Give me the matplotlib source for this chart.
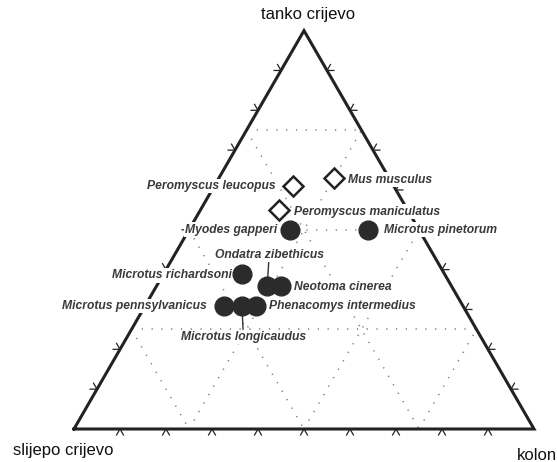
import numpy as np
import matplotlib
matplotlib.use("Agg")
import matplotlib.pyplot as plt

# composition (%) of the three gut parts for each species
species = ["Peromyscus leucopus", "Mus musculus", "Peromyscus maniculatus",
           "Myodes gapperi", "Microtus pinetorum", "Ondatra zibethicus",
           "Microtus richardsoni", "Neotoma cinerea", "Microtus pennsylvanicus",
           "Microtus longicaudus", "Phenacomys intermedius"]
slijepo = [22, 12, 28, 28, 11, 40, 44, 37, 52, 48, 45]
tanko   = [61, 63, 55, 50, 50, 36, 39, 36, 31, 31, 31]
kolon   = [17, 25, 17, 22, 39, 24, 17, 27, 17, 21, 24]
diamond = [True, True, True, False, False, False, False, False, False, False, False]

corner_names = ["slijepo crijevo", "tanko crijevo", "kolon"]
grid_levels = [0.25, 0.5, 0.75]
tick_levels = [0.1, 0.2, 0.3, 0.4, 0.5, 0.6, 0.7, 0.8, 0.9]

# label layout: (dx, dy) in pixels from the point, horizontal alignment, leader line
label_pos = {
    "Peromyscus leucopus": (-17, 0, "right", False),
    "Mus musculus": (14, -1.5, "left", False),
    "Peromyscus maniculatus": (15, -2, "left", False),
    "Myodes gapperi": (-13, 0, "right", False),
    "Microtus pinetorum": (16, 0, "left", False),
    "Ondatra zibethicus": (2, 31, "center", True),
    "Microtus richardsoni": (-10, -1.5, "right", False),
    "Neotoma cinerea": (13, -1, "left", False),
    "Microtus pennsylvanicus": (-16.5, -0.5, "right", False),
    "Microtus longicaudus": (1.5, -31.5, "center", True),
    "Phenacomys intermedius": (13, 0, "left", False),
}


def tern(s, t, k):
    s = np.asarray(s, float); t = np.asarray(t, float); k = np.asarray(k, float)
    tot = s + t + k
    t = t / tot
    k = k / tot
    return k + t / 2, t * np.sqrt(3) / 2


fig = plt.figure(figsize=(5.57, 4.62), dpi=100)
ax = fig.add_axes([0, 0, 1, 1])
ax.set_xlim(-74 / 460, 483 / 460)
ax.set_ylim(-33 / 460, 429 / 460)
ax.axis("off")

grid_kw = dict(color="#7a7a7a", lw=1.1, ls=(0, (0.8, 5.6)), zorder=1)
for c in grid_levels:
    x, y = tern([1 - c, 0], [c, c], [0, 1 - c])
    ax.plot(x, y, **grid_kw)
    x, y = tern([1 - c, 0], [0, 1 - c], [c, c])
    ax.plot(x, y, **grid_kw)
    x, y = tern([c, c], [1 - c, 0], [0, 1 - c])
    ax.plot(x, y, **grid_kw)

# outline
x, y = tern([1, 0, 0, 1], [0, 1, 0, 0], [0, 0, 1, 0])
ax.plot(x, y, color="#222222", lw=2.2, solid_joinstyle="miter", zorder=2)

# chevron ticks
d = 0.015
tick_kw = dict(color="#222222", lw=0.9, zorder=2)
for f in tick_levels:
    # bottom edge
    x, y = tern([1 - f + d, 1 - f, 1 - f], [-d, 0, -d], [f, f, f + d])
    ax.plot(x, y, **tick_kw)
    # left edge
    x, y = tern([1 - f + d, 1 - f, 1 - f], [f, f, f + d], [-d, 0, -d])
    ax.plot(x, y, **tick_kw)
    # right edge
    x, y = tern([-d, 0, -d], [f + d, f, f], [1 - f, 1 - f, 1 - f + d])
    ax.plot(x, y, **tick_kw)

# points
px, py = tern(slijepo, tanko, kolon)
for name, xi, yi, dia in zip(species, px, py, diamond):
    if dia:
        ax.plot(xi, yi, marker="D", ms=9.8, mfc="white", mec="#222222", mew=1.8, zorder=5)
    else:
        ax.plot(xi, yi, marker="o", ms=13.5, mfc="#2b2b2b", mec="#2b2b2b", zorder=5)
    dx, dy, ha, leader = label_pos[name]
    ax.annotate(name, (xi, yi), xytext=(dx, dy), textcoords="offset pixels",
                ha=ha, va="center", fontsize=8.7, fontweight="bold", fontstyle="italic",
                family="Liberation Sans", color="#3a3a3a", zorder=4,
                bbox=dict(boxstyle="square,pad=0.12", fc="white", ec="none"),
                arrowprops=dict(arrowstyle="-", color="#333333", lw=1.0,
                                shrinkA=0, shrinkB=0) if leader else None)

# corner names
cx, cy = tern([1, 0, 0], [0, 1, 0], [0, 0, 1])
corner_off = [(-61, -21, "left"), (4, 16, "center"), (-17, -26, "left")]
for name, xi, yi, (dx, dy, ha) in zip(corner_names, cx, cy, corner_off):
    ax.annotate(name, (xi, yi), xytext=(dx, dy), textcoords="offset pixels",
                ha=ha, va="center", fontsize=12, family="Liberation Sans", color="#111111")

fig.savefig("out.png", dpi=100)
